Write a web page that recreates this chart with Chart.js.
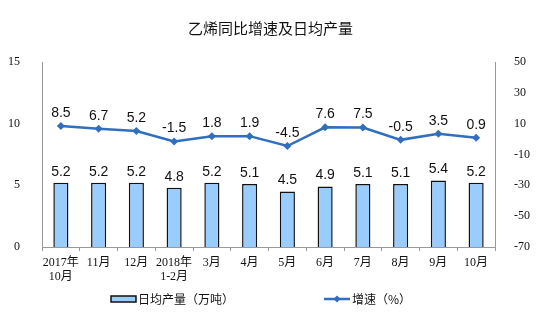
<!DOCTYPE html>
<html>
<head>
<meta charset="utf-8">
<script src="https://cdn.jsdelivr.net/npm/chart.js"></script>
<style>
  html, body { margin: 0; padding: 0; background: #fff; }
  #wrap { width: 541px; height: 324px; }
</style>
</head>
<body>
<div id="wrap"><canvas id="c" width="541" height="324"></canvas></div>
<script>
const categories = [
  ["2017年", "10月"], "11月", "12月", ["2018年", "1-2月"], "3月", "4月",
  "5月", "6月", "7月", "8月", "9月", "10月"
];
const output = [5.2, 5.2, 5.2, 4.8, 5.2, 5.1, 4.5, 4.9, 5.1, 5.1, 5.4, 5.2];
const growth = [8.5, 6.7, 5.2, -1.5, 1.8, 1.9, -4.5, 7.6, 7.5, -0.5, 3.5, 0.9];
const leftTicks = [0, 5, 10, 15];
const rightTicks = [-70, -50, -30, -10, 10, 30, 50];

const barFill = "#99ccff";
const lineColor = "#2f6fbe";
const serif = "'Liberation Serif', 'Noto Sans CJK SC', serif";
const cjk = "'Noto Sans CJK SC', sans-serif";

// value labels above bars and points
const valueLabels = {
  id: "valueLabels",
  afterDatasetsDraw(chart) {
    const ctx = chart.ctx;
    ctx.save();
    ctx.font = "14px 'Liberation Sans', Arial, sans-serif";
    ctx.fillStyle = "#111";
    ctx.textAlign = "center";
    ctx.textBaseline = "middle";
    chart.getDatasetMeta(0).data.forEach((el, i) => {
      ctx.fillText(output[i].toFixed(1), el.x, el.y - 11);
    });
    chart.getDatasetMeta(1).data.forEach((el, i) => {
      ctx.fillText(growth[i].toFixed(1), el.x, el.y - 13);
    });
    ctx.restore();
  }
};

// legend below the axis
const bottomLegend = {
  id: "bottomLegend",
  afterDraw(chart) {
    const ctx = chart.ctx;
    const y = 299;
    ctx.save();
    ctx.fillStyle = barFill;
    ctx.strokeStyle = "#111";
    ctx.lineWidth = 1.5;
    ctx.fillRect(111, y - 3, 25, 6);
    ctx.strokeRect(111, y - 3, 25, 6);
    ctx.strokeStyle = lineColor;
    ctx.lineWidth = 2.5;
    ctx.beginPath();
    ctx.moveTo(324, y);
    ctx.lineTo(350, y);
    ctx.stroke();
    ctx.fillStyle = lineColor;
    ctx.beginPath();
    ctx.moveTo(337, y - 3.5);
    ctx.lineTo(340.5, y);
    ctx.lineTo(337, y + 3.5);
    ctx.lineTo(333.5, y);
    ctx.closePath();
    ctx.fill();
    ctx.fillStyle = "#111";
    ctx.font = "12px " + cjk;
    ctx.textBaseline = "middle";
    ctx.fillText("日均产量（万吨）", 138, y);
    ctx.fillText("增速（%）", 352, y);
    ctx.restore();
  }
};

new Chart(document.getElementById("c"), {
  data: {
    labels: categories,
    datasets: [
      {
        type: "bar",
        label: "日均产量（万吨）",
        data: output,
        yAxisID: "y",
        backgroundColor: barFill,
        borderColor: "#111",
        borderWidth: 1.5,
        barPercentage: 0.4,
        categoryPercentage: 1,
        order: 2
      },
      {
        type: "line",
        label: "增速（%）",
        data: growth,
        yAxisID: "y2",
        borderColor: lineColor,
        backgroundColor: lineColor,
        borderWidth: 2.5,
        pointStyle: "rectRot",
        pointRadius: 4,
        pointBorderWidth: 0,
        tension: 0,
        order: 1
      }
    ]
  },
  options: {
    responsive: false,
    animation: false,
    layout: { padding: { left: 0, right: 0, top: 0, bottom: 0 } },
    plugins: {
      legend: { display: false },
      tooltip: { enabled: false },
      title: {
        display: true,
        text: "乙烯同比增速及日均产量",
        color: "#111",
        font: { family: cjk, size: 15, weight: "normal" },
        padding: { top: 19, bottom: 25 }
      }
    },
    scales: {
      x: {
        offset: true,
        grid: {
          offset: true,
          drawOnChartArea: false,
          tickLength: 4,
          color: "#999"
        },
        border: { color: "#999" },
        ticks: {
          color: "#111",
          font: { family: serif, size: 12, lineHeight: 1.15 },
          maxRotation: 0,
          autoSkip: false,
          padding: 5
        },
        afterFit(scale) { scale.height = 77; }
      },
      y: {
        position: "left",
        min: 0,
        max: 15,
        afterBuildTicks(scale) { scale.ticks = leftTicks.map(v => ({ value: v })); },
        grid: { display: false },
        border: { color: "#999" },
        ticks: {
          color: "#111",
          font: { family: serif, size: 12 },
          padding: 14
        },
        afterFit(scale) { scale.width = 42; }
      },
      y2: {
        position: "right",
        min: -70,
        max: 50,
        afterBuildTicks(scale) { scale.ticks = rightTicks.map(v => ({ value: v })); },
        grid: { display: false },
        border: { color: "#999" },
        ticks: {
          color: "#111",
          font: { family: serif, size: 12 },
          padding: 11
        },
        afterFit(scale) { scale.width = 46; }
      }
    }
  },
  plugins: [valueLabels, bottomLegend]
});
</script>
</body>
</html>
